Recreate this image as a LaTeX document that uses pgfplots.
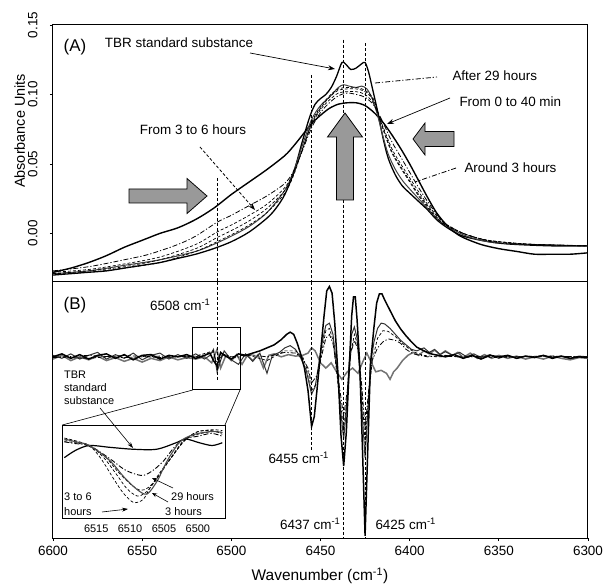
\documentclass[border=0pt]{standalone}
\usepackage{pgfplots}
\pgfplotsset{compat=1.18}
\usepackage{fontspec}
\setmainfont{Liberation Sans}
\usetikzlibrary{arrows.meta}
\newcommand{\ann}{\fontsize{13.5}{15}\selectfont}
\newcommand{\annbig}{\fontsize{17}{19}\selectfont}
\newcommand{\ins}{\fontsize{11}{13}\selectfont}
\tikzset{dd/.style={dash pattern=on 5bp off 2bp on 1.2bp off 2bp},
         ds/.style={dash pattern=on 3bp off 2bp},
         vl/.style={dash pattern=on 3bp off 2bp, line width=0.8pt}}
\begin{document}
\begin{tikzpicture}
\path[use as bounding box] (0,0) rectangle (610bp,585bp);

%================ Panel A
\begin{axis}[at={(53bp,303bp)}, anchor=south west, scale only axis,
  width=535bp, height=257bp,
  xmin=6300, xmax=6600, x dir=reverse, ymin=-0.035, ymax=0.15,
  xtick=\empty, ytick={0,0.05,0.1,0.15},
  tick pos=left, tick align=outside, major tick length=3bp,
  yticklabel style={rotate=90, anchor=south, font=\fontsize{13.5}{14}\selectfont,
     /pgf/number format/.cd, fixed, fixed zerofill, precision=2, assume math mode=true},
  yticklabel shift=9bp,
  axis line style={line width=1pt}, every tick/.style={line width=0.8pt, black},
  ylabel={Absorbance Units},
  ylabel style={font=\fontsize{14.5}{16}\selectfont, at={(axis description cs:-0.062,0.588)}, anchor=center},
]
% From 0 to 40 min (broad)
\addplot[black, line width=1.4pt, smooth, tension=0.5] coordinates {
(6600,-0.028)(6590,-0.025)(6580,-0.021)(6570,-0.016)(6560,-0.010)(6550,-0.005)(6540,0.000)(6530,0.004)(6520,0.010)(6510,0.018)(6500,0.028)(6490,0.037)(6480,0.046)(6470,0.056)(6465,0.063)(6460,0.071)(6455,0.079)(6450,0.085)(6445,0.090)(6440,0.093)(6435,0.094)(6430,0.094)(6425,0.092)(6420,0.087)(6415,0.080)(6410,0.071)(6405,0.061)(6400,0.050)(6395,0.038)(6390,0.026)(6385,0.015)(6380,0.007)(6375,0.001)(6370,-0.003)(6360,-0.008)(6350,-0.011)(6340,-0.013)(6330,-0.015)(6320,-0.015)(6310,-0.015)(6300,-0.014)};
% TBR standard substance
\addplot[black, line width=1.3pt, smooth, tension=0.5] coordinates {
(6600,-0.030)(6590,-0.029)(6580,-0.028)(6570,-0.027)(6560,-0.025)(6550,-0.023)(6540,-0.021)(6530,-0.018)(6520,-0.015)(6510,-0.011)(6500,-0.006)(6490,0.001)(6480,0.011)(6475,0.018)(6470,0.028)(6465,0.044)(6460,0.067)(6456,0.084)(6453,0.093)(6450,0.097)(6447,0.100)(6444,0.105)(6441,0.113)(6438,0.123)(6436,0.122)(6433,0.118)(6430,0.119)(6427,0.122)(6425,0.123)(6423,0.116)(6421,0.105)(6418,0.088)(6415,0.069)(6412,0.054)(6408,0.042)(6404,0.034)(6400,0.029)(6395,0.023)(6390,0.017)(6385,0.010)(6380,0.005)(6375,0.001)(6370,-0.002)(6360,-0.005)(6350,-0.007)(6340,-0.008)(6320,-0.009)(6300,-0.009)};
% After 29 hours
\addplot[black!75, line width=1.0pt, smooth, tension=0.5] coordinates {
(6600,-0.029)(6580,-0.027)(6560,-0.023)(6540,-0.019)(6520,-0.013)(6510,-0.008)(6500,-0.002)(6490,0.005)(6480,0.015)(6470,0.031)(6465,0.045)(6460,0.064)(6455,0.082)(6450,0.092)(6445,0.098)(6440,0.105)(6437,0.107)(6434,0.106)(6430,0.105)(6427,0.106)(6424,0.104)(6421,0.097)(6418,0.085)(6415,0.070)(6412,0.057)(6408,0.046)(6404,0.038)(6400,0.032)(6395,0.025)(6390,0.018)(6385,0.011)(6380,0.006)(6370,-0.001)(6360,-0.005)(6350,-0.007)(6330,-0.008)(6300,-0.009)};
% Around 3 hours
\addplot[black, line width=0.8pt, dd, smooth, tension=0.5] coordinates {
(6600,-0.027)(6580,-0.024)(6560,-0.019)(6546,-0.015)(6530,-0.008)(6520,-0.002)(6508,0.008)(6500,0.013)(6490,0.020)(6480,0.027)(6470,0.036)(6465,0.045)(6460,0.060)(6455,0.076)(6450,0.087)(6445,0.094)(6440,0.099)(6435,0.101)(6430,0.100)(6425,0.098)(6420,0.092)(6415,0.080)(6410,0.066)(6405,0.055)(6400,0.044)(6395,0.033)(6390,0.023)(6385,0.014)(6380,0.007)(6370,0.000)(6360,-0.004)(6350,-0.007)(6330,-0.008)(6300,-0.009)};
% From 3 to 6 hours
\addplot[black, line width=0.7pt, ds, smooth, tension=0.5] coordinates {
(6600,-0.028)(6580,-0.026)(6560,-0.022)(6540,-0.017)(6520,-0.008)(6508,0.001)(6500,0.006)(6490,0.013)(6480,0.021)(6470,0.033)(6465,0.044)(6460,0.061)(6455,0.078)(6450,0.089)(6445,0.096)(6440,0.101)(6435,0.102)(6430,0.102)(6425,0.100)(6420,0.093)(6415,0.077)(6410,0.061)(6405,0.050)(6400,0.040)(6395,0.030)(6390,0.021)(6385,0.013)(6380,0.007)(6370,0.000)(6360,-0.004)(6350,-0.006)(6330,-0.008)(6300,-0.009)};
\addplot[black, line width=0.7pt, ds, smooth, tension=0.5] coordinates {
(6600,-0.029)(6580,-0.027)(6560,-0.024)(6540,-0.019)(6520,-0.011)(6508,-0.003)(6500,0.002)(6490,0.009)(6480,0.018)(6470,0.031)(6465,0.043)(6460,0.061)(6455,0.079)(6450,0.090)(6445,0.098)(6440,0.103)(6435,0.104)(6430,0.104)(6425,0.102)(6420,0.095)(6415,0.076)(6410,0.059)(6405,0.048)(6400,0.038)(6395,0.028)(6390,0.020)(6385,0.012)(6380,0.006)(6370,0.000)(6360,-0.004)(6350,-0.006)(6330,-0.008)(6300,-0.009)};
\addplot[black, line width=0.7pt, ds, smooth, tension=0.5] coordinates {
(6600,-0.029)(6580,-0.028)(6560,-0.025)(6540,-0.021)(6520,-0.013)(6508,-0.006)(6500,-0.001)(6490,0.006)(6480,0.015)(6470,0.029)(6465,0.042)(6460,0.061)(6455,0.080)(6450,0.091)(6445,0.099)(6440,0.104)(6435,0.105)(6430,0.105)(6425,0.103)(6420,0.096)(6415,0.075)(6410,0.058)(6405,0.047)(6400,0.037)(6395,0.027)(6390,0.019)(6385,0.011)(6380,0.006)(6370,0.000)(6360,-0.004)(6350,-0.006)(6330,-0.008)(6300,-0.009)};
% vertical dashed guides
\draw[vl] (axis cs:6508,0.040) -- (axis cs:6508,-0.035);
\draw[vl] (axis cs:6455,0.114) -- (axis cs:6455,-0.035);
\draw[vl] (axis cs:6437,0.1395) -- (axis cs:6437,-0.035);
\draw[vl] (axis cs:6425,0.137) -- (axis cs:6425,-0.035);
\end{axis}

%================ Panel B
\begin{axis}[at={(53bp,47bp)}, anchor=south west, scale only axis,
  width=535bp, height=256bp,
  xmin=6300, xmax=6600, x dir=reverse, ymin=-2.42, ymax=1.0,
  xtick={6300,6350,6400,6450,6500,6550,6600}, ytick=\empty,
  tick pos=left, tick align=outside, major tick length=3bp,
  xticklabel style={font=\fontsize{13.5}{14}\selectfont,
     /pgf/number format/.cd, 1000 sep={}, assume math mode=true},
  xticklabel shift=2bp,
  axis line style={line width=1pt}, every tick/.style={line width=0.8pt, black},
  xlabel={Wavenumber (cm\textsuperscript{-1})},
  xlabel style={font=\fontsize{15.5}{17}\selectfont, at={(axis description cs:0.499,-0.148)}, anchor=center},
]
% 0 to 40 min (nearly flat)
\addplot[black!55, line width=1.5pt] coordinates {
(6600,-0.03)(6595,0.02)(6590,-0.05)(6585,0.00)(6580,-0.04)(6575,0.01)(6570,-0.05)(6565,-0.01)(6560,-0.06)(6555,-0.02)(6550,-0.07)(6545,-0.02)(6540,-0.05)(6535,0.00)(6530,-0.04)(6525,-0.01)(6520,-0.03)(6515,0.00)(6511,-0.08)(6508,0.10)(6506,-0.15)(6503,0.02)(6500,-0.05)(6497,0.03)(6494,-0.10)(6491,0.02)(6488,-0.05)(6485,0.03)(6482,-0.15)(6479,0.02)(6476,0.04)(6472,0.00)(6468,0.03)(6464,0.01)(6460,0.02)(6457,0.05)(6455,0.12)(6453,0.08)(6450,-0.08)(6447,-0.15)(6444,-0.08)(6441,-0.20)(6438,-0.30)(6435,-0.20)(6432,-0.15)(6429,-0.22)(6426,-0.05)(6424,0.05)(6422,-0.05)(6419,-0.20)(6416,-0.18)(6413,-0.22)(6411,-0.30)(6409,-0.20)(6407,-0.15)(6404,-0.05)(6401,0.02)(6398,0.06)(6395,0.02)(6392,0.08)(6389,0.04)(6386,0.09)(6383,0.03)(6380,0.08)(6376,0.02)(6373,0.06)(6370,-0.01)(6366,0.05)(6362,-0.02)(6358,0.03)(6354,-0.02)(6350,0.02)(6345,-0.02)(6340,0.01)(6335,-0.03)(6330,0.00)(6325,-0.03)(6320,0.01)(6315,-0.02)(6310,-0.04)(6305,-0.01)(6300,-0.02)};
% 29 hours
\addplot[black!80, line width=1.0pt] coordinates {
(6600,0.02)(6595,-0.02)(6590,0.04)(6585,-0.03)(6580,0.02)(6575,0.06)(6570,-0.03)(6565,0.03)(6560,-0.02)(6555,0.05)(6550,-0.04)(6545,0.02)(6540,0.05)(6535,-0.03)(6530,0.03)(6525,-0.02)(6520,0.04)(6515,-0.03)(6512,0.02)(6510,0.10)(6508,-0.20)(6506,-0.05)(6504,0.08)(6500,-0.04)(6496,-0.10)(6492,0.04)(6488,-0.06)(6484,0.05)(6480,-0.22)(6477,0.02)(6473,0.06)(6470,0.12)(6467,0.15)(6464,0.10)(6461,-0.02)(6458,-0.18)(6455,-0.50)(6453,-0.40)(6451,-0.10)(6449,0.20)(6447,0.42)(6445,0.45)(6443,0.30)(6441,-0.10)(6439,-0.65)(6437,-1.10)(6435.5,-0.70)(6434,-0.10)(6432.5,0.30)(6431,0.40)(6429.5,0.25)(6428,-0.20)(6426.5,-0.80)(6425,-1.35)(6423.5,-0.75)(6422,-0.10)(6420,0.20)(6418,0.38)(6416,0.45)(6414,0.44)(6411,0.38)(6408,0.30)(6405,0.22)(6402,0.16)(6399,0.10)(6396,0.08)(6392,0.12)(6389,0.06)(6386,0.10)(6383,0.03)(6380,0.07)(6376,0.02)(6372,0.06)(6368,0.00)(6364,0.04)(6360,-0.01)(6355,0.03)(6350,-0.02)(6345,0.02)(6340,-0.02)(6335,0.01)(6330,0.00)(6325,0.02)(6320,-0.01)(6315,0.01)(6310,-0.02)(6305,0.01)(6300,0.00)};
% around 3 hours
\addplot[black, line width=0.8pt, dd] coordinates {
(6600,-0.01)(6580,0.02)(6560,-0.01)(6540,0.01)(6520,0.00)(6510,0.06)(6508,-0.10)(6505,0.04)(6500,0.00)(6490,0.03)(6480,0.00)(6470,0.06)(6464,0.05)(6460,-0.02)(6457,-0.15)(6455,-0.35)(6452,-0.25)(6449,0.05)(6447,0.25)(6445,0.30)(6443,0.18)(6440,-0.30)(6437,-0.80)(6435,-0.45)(6433,0.05)(6431,0.22)(6429,0.10)(6427,-0.35)(6425,-0.95)(6423,-0.45)(6421,-0.05)(6418,0.12)(6415,0.20)(6412,0.24)(6408,0.22)(6405,0.18)(6402,0.10)(6398,0.04)(6394,0.02)(6390,0.00)(6380,0.02)(6370,-0.01)(6360,0.01)(6340,0.00)(6320,0.01)(6300,0.00)};
% 3 to 6 hours
\addplot[black, line width=0.7pt, ds] coordinates {
(6600,0.00)(6580,-0.02)(6560,0.02)(6540,-0.01)(6520,0.01)(6510,0.08)(6508,-0.15)(6505,0.03)(6500,-0.02)(6490,0.02)(6480,-0.05)(6470,0.08)(6464,0.08)(6460,0.00)(6457,-0.20)(6455,-0.45)(6452,-0.35)(6449,0.10)(6447,0.35)(6445,0.38)(6443,0.22)(6440,-0.40)(6437,-0.95)(6435,-0.55)(6433,0.05)(6431,0.30)(6429,0.15)(6427,-0.40)(6425,-1.15)(6423,-0.55)(6421,-0.05)(6418,0.25)(6415,0.35)(6412,0.34)(6408,0.27)(6404,0.18)(6400,0.10)(6396,0.05)(6392,0.02)(6385,0.00)(6370,0.01)(6350,-0.01)(6330,0.01)(6300,0.00)};
% TBR standard substance
\addplot[black, line width=1.5pt] coordinates {
(6600,0.00)(6595,0.04)(6590,-0.02)(6585,0.03)(6580,-0.03)(6575,0.02)(6570,0.04)(6565,-0.02)(6560,0.03)(6555,-0.04)(6550,0.02)(6545,0.03)(6540,-0.03)(6535,0.02)(6530,0.00)(6525,0.03)(6520,-0.02)(6515,0.02)(6512,0.05)(6510,-0.05)(6508,-0.12)(6506,0.06)(6504,0.02)(6500,-0.03)(6496,0.04)(6492,0.02)(6488,0.05)(6484,0.08)(6480,0.12)(6476,0.16)(6472,0.23)(6469,0.30)(6467,0.33)(6465,0.30)(6463,0.18)(6461,0.03)(6459,-0.15)(6457,-0.45)(6455,-0.93)(6453.5,-0.80)(6452,-0.45)(6450,0.05)(6448,0.55)(6446.5,0.88)(6445,0.94)(6443.5,0.85)(6442,0.45)(6440,-0.30)(6438.5,-1.05)(6437,-1.46)(6435.5,-1.00)(6434,-0.20)(6432.5,0.55)(6431.5,0.80)(6430.5,0.80)(6429.5,0.50)(6428,-0.10)(6426.5,-1.20)(6425,-2.39)(6423.5,-1.25)(6422,-0.10)(6420,0.40)(6418.5,0.72)(6417,0.84)(6415.5,0.84)(6414,0.76)(6411,0.62)(6408,0.48)(6405,0.37)(6402,0.28)(6399,0.20)(6396,0.13)(6392,0.08)(6388,0.04)(6384,0.02)(6380,0.00)(6375,0.03)(6370,-0.02)(6365,0.02)(6360,-0.03)(6355,0.02)(6350,0.00)(6345,0.02)(6340,-0.02)(6335,0.01)(6330,-0.01)(6325,0.02)(6320,-0.02)(6315,0.01)(6310,-0.02)(6305,0.00)(6300,-0.01)};
% vertical dashed guides
\draw[vl] (axis cs:6508,1.0) -- (axis cs:6508,-0.31);
\draw[vl] (axis cs:6455,1.0) -- (axis cs:6455,-1.24);
\draw[vl] (axis cs:6437,1.0) -- (axis cs:6437,-2.42);
\draw[vl] (axis cs:6425,1.0) -- (axis cs:6425,-2.42);
% zoom rectangle
\draw[line width=0.6pt] (axis cs:6521.7,0.40) rectangle (axis cs:6495.1,-0.44);
\end{axis}

%================ Inset
\begin{axis}[at={(62.3bp,66.7bp)}, anchor=south west, scale only axis,
  width=162.7bp, height=93.3bp,
  xmin=6496, xmax=6520, x dir=reverse, ymin=0, ymax=1,
  xtick={6500,6505,6510,6515}, ytick=\empty, major tick length=0pt,
  xticklabel style={font=\ins, /pgf/number format/.cd, 1000 sep={}, assume math mode=true},
  xticklabel shift=3bp,
  axis line style={line width=0.8pt},
  axis background/.style={fill=white},
]
\addplot[black, line width=1.2pt, smooth, tension=0.5] coordinates {
(6519.7,0.65)(6518,0.73)(6516,0.78)(6512.9,0.76)(6509.5,0.74)(6506.1,0.74)(6503.2,0.81)(6501.8,0.85)(6499.8,0.81)(6497.9,0.78)(6496.4,0.81)};
\addplot[black, line width=0.7pt, ds, smooth, tension=0.5] coordinates {
(6519.7,0.84)(6518,0.82)(6516,0.78)(6514.3,0.64)(6512.4,0.42)(6511,0.27)(6509.5,0.17)(6508.1,0.20)(6507.1,0.32)(6505.6,0.49)(6503.7,0.67)(6502.3,0.81)(6500.3,0.92)(6497.9,0.95)(6496.4,0.94)};
\addplot[black, line width=0.7pt, ds, smooth, tension=0.5] coordinates {
(6519.7,0.86)(6518,0.83)(6516,0.78)(6514,0.66)(6512,0.47)(6510.5,0.32)(6509,0.24)(6507.8,0.27)(6506.6,0.37)(6505.2,0.52)(6503.5,0.70)(6502,0.84)(6500,0.93)(6498,0.94)(6496.4,0.92)};
\addplot[black, line width=0.7pt, ds, smooth, tension=0.5] coordinates {
(6519.7,0.82)(6518,0.81)(6516,0.77)(6513.8,0.67)(6511.8,0.50)(6510,0.37)(6508.5,0.30)(6507.3,0.33)(6506,0.43)(6504.6,0.58)(6503,0.74)(6501.5,0.86)(6499.5,0.91)(6497.5,0.93)(6496.4,0.90)};
\addplot[black, line width=0.9pt, dd, smooth, tension=0.5] coordinates {
(6519.7,0.82)(6518,0.80)(6516,0.78)(6513,0.64)(6511,0.53)(6509.5,0.48)(6508,0.46)(6506.5,0.52)(6505,0.62)(6503.5,0.76)(6502,0.85)(6500,0.88)(6498,0.91)(6496.4,0.88)};
\addplot[black!70, line width=1.1pt, smooth, tension=0.5] coordinates {
(6519.7,0.85)(6518,0.82)(6516,0.78)(6513,0.62)(6511,0.45)(6509,0.31)(6507.5,0.26)(6506,0.40)(6505,0.55)(6504,0.68)(6502.5,0.83)(6500.5,0.90)(6498,0.93)(6496.4,0.92)};
\end{axis}

%================ Annotations (page coordinates, 1 unit = 1 bp)
\begin{scope}[x=1bp, y=1bp]
% panel A
\node[font=\annbig] at (75,538) {(A)};
\node[font=\ann] at (179,542) {TBR standard substance};
\draw[-{Stealth[length=7bp,width=5bp]}, line width=0.7pt] (250,532) -- (335,516);
\node[font=\ann, anchor=west] at (449,509) {After 29 hours};
\draw[dd, line width=0.8pt] (375,502) -- (437,508);
\node[font=\ann, anchor=west] at (456,483) {From 0 to 40 min};
\draw[-{Stealth[length=7bp,width=5bp]}, line width=0.7pt] (450,487) -- (387,461);
\node[font=\ann, anchor=west] at (461,417) {Around 3 hours};
\draw[dd, line width=0.8pt] (456,417) -- (415,403);
\node[font=\ann] at (193,455) {From 3 to 6 hours};
\draw[ds, line width=0.8pt, -{Stealth[length=7bp,width=5bp]}] (200,438) -- (255,375);
% grey block arrows
\draw[fill=black!40, line width=0.8pt] (454,453.5) -- (425,453.5) -- (425,462) -- (413,446) -- (425,430) -- (425,438.5) -- (454,438.5) -- cycle;
\draw[fill=black!40, line width=0.8pt] (336.5,385) -- (353.5,385) -- (353.5,448) -- (362.5,448) -- (345,472) -- (327.5,448) -- (336.5,448) -- cycle;
\draw[fill=black!40, line width=0.8pt] (129,382) -- (187,382) -- (187,371.5) -- (207,389) -- (187,406.5) -- (187,396) -- (129,396) -- cycle;
% panel B
\node[font=\annbig] at (75,280) {(B)};
\node[font=\ann, anchor=east] at (214,280) {6508 cm\textsuperscript{-1}};
\node[font=\ann, anchor=west] at (265,127) {6455 cm\textsuperscript{-1}};
\node[font=\ann, anchor=east] at (344,61) {6437 cm\textsuperscript{-1}};
\node[font=\ann, anchor=west] at (372,61) {6425 cm\textsuperscript{-1}};
% zoom connectors
\draw[line width=0.6pt] (192.7,195) -- (62.3,160);
\draw[line width=0.6pt] (240,195) -- (225,160);
% inset labels
\node[font=\ins, anchor=north west, align=left, inner sep=0pt] at (64,214) {TBR\\standard\\substance};
\draw[-{Stealth[length=6bp,width=4bp]}, line width=0.6pt] (100,177) -- (133,137);
\node[font=\ins, anchor=west, inner sep=0pt] at (64,88) {3 to 6};
\node[font=\ins, anchor=west, inner sep=0pt] at (64,73) {hours};
\draw[-{Stealth[length=6bp,width=4bp]}, line width=0.6pt] (102,73) -- (128,76);
\node[font=\ins, anchor=west, inner sep=0pt] at (171,88) {29 hours};
\draw[-{Stealth[length=5bp,width=4bp]}, line width=0.6pt] (173,97) -- (152,107);
\node[font=\ins, anchor=west, inner sep=0pt] at (165,73) {3 hours};
\draw[-{Stealth[length=5bp,width=4bp]}, line width=0.6pt] (168,83) -- (152,92);
\end{scope}
\end{tikzpicture}
\end{document}
